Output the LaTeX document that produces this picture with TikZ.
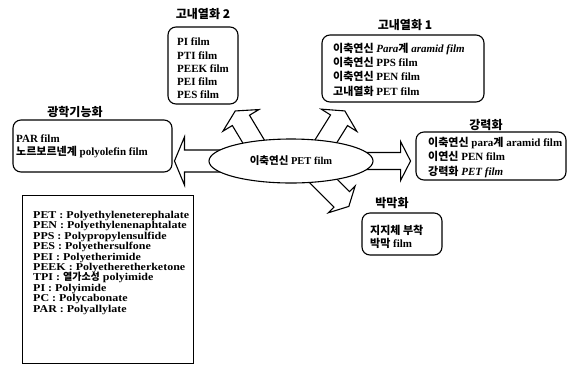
\documentclass[tikz,border=0pt]{standalone}
\usepackage{fontspec}
\setmainfont{Liberation Serif}
\newfontfamily\legfont{Liberation Serif}[FakeStretch=1.14]
\newfontfamily\krfont{Noto Sans CJK KR}
\newcommand{\K}[1]{{\krfont #1}}
\usetikzlibrary{shapes.geometric,backgrounds}
\lineskiplimit=-\maxdimen
\newcommand{\blockarr}[6]{\draw[barrow, shift={(#1)}, rotate=#2] (-12,-#4) -- (#3,-#4) -- (#3,-#5) -- ({#3+#6},0) -- (#3,#5) -- (#3,#4) -- (-12,#4) -- cycle;}
\begin{document}
\begin{tikzpicture}[x=1pt,y=-1pt,
  lw/.style={line width=1.1pt},
  box/.style={draw, lw, rounded corners=8pt, fill=white, inner sep=0pt},
  ttl/.style={font=\fontsize{12}{14}\selectfont\bfseries\krfont, inner sep=0pt},
  lst/.style={font=\fontsize{11}{#1}\selectfont\bfseries, align=left, anchor=west, inner sep=0pt},
  barrow/.style={draw, fill=white, lw, line join=miter},
]
\useasboundingbox (0,0) rectangle (567,365);

% central ellipse
\node[ellipse, draw, lw, fill=white, minimum width=164pt, minimum height=44pt, inner sep=0pt,
      font=\fontsize{10.5}{12}\selectfont\bfseries] (e) at (291,161) {\K{이축연신} PET film};

% 고내열화 2
\node[box, minimum width=70pt, minimum height=77pt] (h2) at (203,65.5) {};
\node[lst=13.2] (h2t) at (177,68.5) {PI film\\PTI film\\PEEK film\\PEI film\\PES film};
\node[ttl] (h2l) at (203,14) {고내열화 2};

% 고내열화 1
\node[box, minimum width=162pt, minimum height=67pt] (h1) at (403,68.5) {};
\node[lst=14.3] (h1t) at (333,69.5) {\K{이축연신} \textit{Para\K{계} aramid film}\\\K{이축연신} PPS film\\\K{이축연신} PEN film\\\K{고내열화} PET film};
\node[ttl] (h1l) at (405,25) {고내열화 1};

% 강력화
\node[box, minimum width=150pt, minimum height=48pt] (s) at (491,156) {};
\node[lst=14.5] (st) at (428,157.5) {\K{이축연신} para\K{계} aramid film\\\K{이연신} PEN film\\\K{강력화} \textit{PET film}};
\node[ttl] (sl) at (486,125) {강력화};

% 박막화
\node[box, minimum width=80pt, minimum height=42pt] (b) at (402,234) {};
\node[lst=13] (bt) at (370,236.5) {\K{지지체 부착}\\\K{박막} film};
\node[ttl] (bl) at (392,203) {박막화};

% 광학기능화
\node[box, minimum width=159pt, minimum height=52pt] (o) at (92.5,146) {};
\node[lst=13] (ot) at (16,146.5) {PAR film\\\K{노르보르넨계} polyolefin film};
\node[ttl] (ol) at (75,112) {광학기능화};

% legend
\node[draw, lw, minimum width=171pt, minimum height=168pt, anchor=north west, inner sep=0pt] (leg) at (22,195) {};
\node[font=\fontsize{10.5}{10.4}\selectfont\bfseries\legfont, align=left, anchor=north west, inner sep=0pt] (legt) at (33,211)
  {PET : Polyethyleneterephalate\\PEN : Polyethylenenaphtalate\\PPS : Polypropylensulfide\\PES : Polyethersulfone\\PEI : Polyetherimide\\PEEK : Polyetheretherketone\\TPI : {\fontsize{10}{10.4}\selectfont\K{열가소성}} polyimide\\PI : Polyimide\\PC : Polycabonate\\PAR : Polyallylate};

% block arrows
\begin{pgfonlayer}{background}
\blockarr{e.west}{180}{24}{11}{24}{10}
\blockarr{e.east}{0}{27}{8.5}{19.5}{10}
\blockarr{e.152}{121}{24}{10}{21}{11}
\blockarr{e.30}{58}{24}{10}{21}{11}
\blockarr{e.-32}{-45}{25}{11}{19}{10}
\end{pgfonlayer}
\end{tikzpicture}
\end{document}
